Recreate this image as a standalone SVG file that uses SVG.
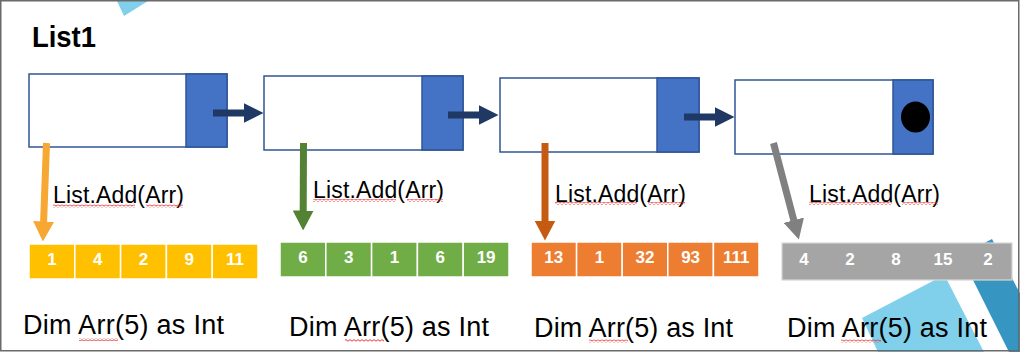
<svg xmlns="http://www.w3.org/2000/svg" width="1020" height="352" viewBox="0 0 1020 352">
<style>
.nd{fill:#ffffff;stroke:#2F5597;stroke-width:1.5}
.ptr{fill:#4472C4;stroke:#2F5597;stroke-width:1.5}
.cell{stroke:#ffffff;stroke-width:1.5}
.num{font-family:"Liberation Sans",Arial,sans-serif;font-weight:bold;font-size:17px;fill:#ffffff;text-anchor:middle}
.lbl{font-family:"Liberation Sans",Arial,sans-serif;font-size:23px;fill:#000000}
.dim{font-family:"Liberation Sans",Arial,sans-serif;font-size:27px;fill:#000000}
.sq{fill:url(#squig)}
.conn{fill:none;stroke-width:7;stroke-linecap:butt}
</style>
<defs>
<pattern id="squig" patternUnits="userSpaceOnUse" width="4" height="3">
<path d="M0,2.2 L2,0.6 L4,2.2" fill="none" stroke="#E81F1F" stroke-width="0.9"/>
</pattern>
<marker id="hNavy" markerUnits="userSpaceOnUse" viewBox="0 0 20 20" markerWidth="20" markerHeight="20" refX="0.5" refY="10" orient="auto"><path d="M0,0 L20,10 L0,20 z" fill="#1F3864"/></marker>
<marker id="hOr" markerUnits="userSpaceOnUse" viewBox="0 0 20 21" markerWidth="20" markerHeight="21" refX="0.5" refY="10.5" orient="auto"><path d="M0,0 L20,10.5 L0,21 z" fill="#F7A832"/></marker>
<marker id="hGr" markerUnits="userSpaceOnUse" viewBox="0 0 20 21" markerWidth="20" markerHeight="21" refX="0.5" refY="10.5" orient="auto"><path d="M0,0 L20,10.5 L0,21 z" fill="#548235"/></marker>
<marker id="hDo" markerUnits="userSpaceOnUse" viewBox="0 0 20 21" markerWidth="20" markerHeight="21" refX="0.5" refY="10.5" orient="auto"><path d="M0,0 L20,10.5 L0,21 z" fill="#C55A11"/></marker>
<marker id="hGy" markerUnits="userSpaceOnUse" viewBox="0 0 20 21" markerWidth="20" markerHeight="21" refX="0.5" refY="10.5" orient="auto"><path d="M0,0 L20,10.5 L0,21 z" fill="#808080"/></marker>
</defs>
<rect x="0" y="0" width="1020" height="352" fill="#ffffff"/>
<g id="decor">
<polygon points="117,1 148,1 124,16" fill="#80D0EC"/>
<polygon points="862,318 944.4,275.1 984,352 878,352" fill="#80D0EC"/>
<polygon points="992,239 960.6,255.3 1009,352 1050,352" fill="#3695C1"/>
</g>
<g id="title"><text x="32" y="47" font-family="Liberation Sans,Arial,sans-serif" font-weight="bold" font-size="30" textLength="64" lengthAdjust="spacingAndGlyphs">List1</text></g>
<g id="node1"><rect class="nd" x="29" y="74" width="198" height="73"/><rect class="ptr" x="186" y="74" width="41" height="73"/></g>
<g id="node2"><rect class="nd" x="264" y="76" width="199" height="74"/><rect class="ptr" x="422" y="76" width="41" height="74"/></g>
<g id="node3"><rect class="nd" x="500" y="78" width="199" height="74"/><rect class="ptr" x="657" y="78" width="42" height="74"/></g>
<g id="node4"><rect class="nd" x="735" y="80" width="198" height="74"/><rect class="ptr" x="893" y="80" width="40" height="74"/><ellipse cx="915.5" cy="117" rx="14.5" ry="15.5" fill="#000000"/></g>
<g id="arr1">
<rect class="cell" x="29" y="244" width="45.8" height="35" fill="#FFC000"/>
<rect class="cell" x="74.8" y="244" width="45.8" height="35" fill="#FFC000"/>
<rect class="cell" x="120.6" y="244" width="45.8" height="35" fill="#FFC000"/>
<rect class="cell" x="166.4" y="244" width="45.8" height="35" fill="#FFC000"/>
<rect class="cell" x="212.2" y="244" width="45.8" height="35" fill="#FFC000"/>
<text class="num" x="51.9" y="264.5">1</text><text class="num" x="97.7" y="264.5">4</text><text class="num" x="143.5" y="264.5">2</text><text class="num" x="189.3" y="264.5">9</text><text class="num" x="235.1" y="264.5">11</text>
</g>
<g id="arr2">
<rect class="cell" x="280" y="242" width="45.8" height="35" fill="#70AD47"/>
<rect class="cell" x="325.8" y="242" width="45.8" height="35" fill="#70AD47"/>
<rect class="cell" x="371.6" y="242" width="45.8" height="35" fill="#70AD47"/>
<rect class="cell" x="417.4" y="242" width="45.8" height="35" fill="#70AD47"/>
<rect class="cell" x="463.2" y="242" width="45.8" height="35" fill="#70AD47"/>
<text class="num" x="302.9" y="262.5">6</text><text class="num" x="348.7" y="262.5">3</text><text class="num" x="394.5" y="262.5">1</text><text class="num" x="440.3" y="262.5">6</text><text class="num" x="486.1" y="262.5">19</text>
</g>
<g id="arr3">
<rect class="cell" x="531" y="242" width="45.6" height="35" fill="#ED7D31"/>
<rect class="cell" x="576.6" y="242" width="45.6" height="35" fill="#ED7D31"/>
<rect class="cell" x="622.2" y="242" width="45.6" height="35" fill="#ED7D31"/>
<rect class="cell" x="667.8" y="242" width="45.6" height="35" fill="#ED7D31"/>
<rect class="cell" x="713.4" y="242" width="45.6" height="35" fill="#ED7D31"/>
<text class="num" x="553.8" y="262.5">13</text><text class="num" x="599.4" y="262.5">1</text><text class="num" x="645" y="262.5">32</text><text class="num" x="690.6" y="262.5">93</text><text class="num" x="736.2" y="262.5">111</text>
</g>
<g id="arr4">
<rect x="782" y="243" width="230" height="37" fill="#A5A5A5" stroke="#D6D6D6" stroke-width="1.2"/>
<text class="num" x="804" y="264.5">4</text><text class="num" x="850" y="264.5">2</text><text class="num" x="896" y="264.5">8</text><text class="num" x="943" y="264.5">15</text><text class="num" x="988" y="264.5">2</text>
</g>
<g id="connectors">
<line class="conn" x1="213" y1="113" x2="244" y2="113" stroke="#1F3864" marker-end="url(#hNavy)"/>
<line class="conn" x1="448" y1="115" x2="479" y2="115" stroke="#1F3864" marker-end="url(#hNavy)"/>
<line class="conn" x1="684" y1="117" x2="715" y2="117" stroke="#1F3864" marker-end="url(#hNavy)"/>
<line class="conn" x1="46.5" y1="143" x2="43.6" y2="222" stroke="#F7A832" marker-end="url(#hOr)"/>
<line class="conn" x1="303.5" y1="143" x2="303.2" y2="211" stroke="#548235" marker-end="url(#hGr)"/>
<line class="conn" x1="545" y1="143" x2="545" y2="221" stroke="#C55A11" marker-end="url(#hDo)"/>
<line class="conn" x1="773.5" y1="143" x2="793.9" y2="220.7" stroke="#808080" marker-end="url(#hGy)"/>
</g>
<g id="labels">
<text class="lbl" x="53" y="203" textLength="131">List.Add(Arr)</text>
<text class="lbl" x="313" y="197.5" textLength="131">List.Add(Arr)</text>
<text class="lbl" x="555" y="201.5" textLength="131">List.Add(Arr)</text>
<text class="lbl" x="809" y="201.5" textLength="131">List.Add(Arr)</text>
<rect class="sq" x="53" y="204.5" width="82" height="3"/><rect class="sq" x="146" y="204.5" width="37" height="3"/>
<rect class="sq" x="313" y="199" width="83" height="3"/><rect class="sq" x="407" y="199" width="36" height="3"/>
<rect class="sq" x="555" y="202" width="82" height="3"/><rect class="sq" x="648" y="202" width="37" height="3"/>
<rect class="sq" x="809" y="202" width="83" height="3"/><rect class="sq" x="902" y="202" width="36" height="3"/>
<text class="dim" x="23" y="334" textLength="201">Dim Arr(5) as Int</text>
<text class="dim" x="289" y="336" textLength="200">Dim Arr(5) as Int</text>
<text class="dim" x="534" y="336.5" textLength="199">Dim Arr(5) as Int</text>
<text class="dim" x="787" y="336.5" textLength="200">Dim Arr(5) as Int</text>
<rect class="sq" x="79" y="338" width="39" height="3"/>
<rect class="sq" x="345" y="339" width="39" height="3"/>
<rect class="sq" x="589" y="339.5" width="39" height="3"/>
<rect class="sq" x="841" y="339.5" width="40" height="3"/>
</g>
<rect x="0.75" y="0.75" width="1018" height="350" fill="none" stroke="#6A6A6A" stroke-width="1.5"/>
</svg>
